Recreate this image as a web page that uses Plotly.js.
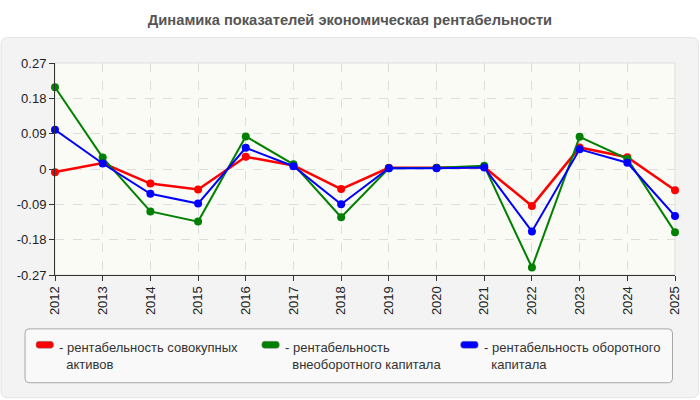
<!DOCTYPE html>
<html>
<head>
<meta charset="utf-8">
<script src="https://cdn.plot.ly/plotly-3.0.1.min.js"></script>
<style>html,body{margin:0;padding:0;background:#fff;}#chart{width:700px;height:400px;}</style>
</head>
<body>
<div id="chart"></div>
<script>
var years = [2012,2013,2014,2015,2016,2017,2018,2019,2020,2021,2022,2023,2024,2025];
var totalAssets = [-0.008,0.015,-0.037,-0.052,0.031,0.009,-0.051,0.003,0.003,0.005,-0.094,0.055,0.030,-0.054];
var fixedCapital = [0.208,0.029,-0.108,-0.134,0.083,0.012,-0.123,0.002,0.003,0.008,-0.251,0.082,0.026,-0.161];
var workingCapital = [0.100,0.014,-0.063,-0.088,0.054,0.007,-0.090,0.002,0.002,0.004,-0.159,0.050,0.016,-0.120];
var seriesNames = ["рентабельность совокупных активов","рентабельность внеоборотного капитала","рентабельность оборотного капитала"];
var legendTexts = ["- рентабельность совокупных<br>&#160;&#160;активов","- рентабельность<br>&#160;&#160;внеоборотного капитала","- рентабельность оборотного<br>&#160;&#160;капитала"];
var yTickVals = [-0.27,-0.18,-0.09,0,0.09,0.18,0.27];
var yTickText = ["-0.27","-0.18","-0.09","0","0.09","0.18","0.27"];
var titleText = "Динамика показателей экономическая рентабельности";

var W = 700, H = 400;
var M = {l:55, r:24.5, t:62.5, b:125};
var PW = W - M.l - M.r, PH = H - M.t - M.b;
function px(x){ return (x - M.l) / PW; }
function py(y){ return (H - M.b - y) / PH; }
function roundRect(x0,y0,x1,y1,r){
  var a = px(x0), b = px(x1), c = py(y0), d = py(y1);
  var rx = r / PW, ry = r / PH;
  return 'M'+(a+rx)+','+c+' L'+(b-rx)+','+c+' Q'+b+','+c+' '+b+','+(c-ry)+
    ' L'+b+','+(d+ry)+' Q'+b+','+d+' '+(b-rx)+','+d+
    ' L'+(a+rx)+','+d+' Q'+a+','+d+' '+a+','+(d+ry)+
    ' L'+a+','+(c-ry)+' Q'+a+','+c+' '+(a+rx)+','+c+' Z';
}

var FONT = 'Liberation Sans, Arial, sans-serif';
var colors = ['#ff0000','#008000','#0000ff'];
var widths = [2.5,2,2];
var data = [totalAssets, fixedCapital, workingCapital].map(function(v,i){
  return {x: years, y: v, type:'scatter', mode:'lines+markers', name: seriesNames[i],
    line:{color:colors[i], width:widths[i]}, marker:{color:colors[i], size:8}, showlegend:false,
    cliponaxis:false};
});

var shapes = [
  {type:'path', xref:'paper', yref:'paper', layer:'below', path: roundRect(1,37,699,398,7), fillcolor:'#f3f3f3', line:{color:'#e4e4e4', width:1}},
  {type:'rect', xref:'paper', yref:'paper', layer:'below', x0:0, x1:1, y0:0, y1:1, fillcolor:'#fbfbf6', line:{color:'#dddddd', width:1}},
  {type:'path', xref:'paper', yref:'paper', layer:'below', path: roundRect(25,329,673,383,4), fillcolor:'#f9f9f9', line:{color:'#a8a8a8', width:1}}
];
var swatchX = [36, 262, 461];
var textX = [57, 283, 482];
var annotations = [];
for (var i=0;i<3;i++){
  shapes.push({type:'path', xref:'paper', yref:'paper', path: roundRect(swatchX[i],341.5,swatchX[i]+17.5,348.5,3), fillcolor:colors[i], line:{color:'#888', width:0.5}});
  annotations.push({xref:'paper', yref:'paper', x:px(textX[i]), y:py(338), xanchor:'left', yanchor:'top', align:'left', showarrow:false,
    text:legendTexts[i], font:{family:FONT, size:13, color:'#333'}});
}

var layout = {
  width: W, height: H,
  margin: M,
  paper_bgcolor:'#ffffff', plot_bgcolor:'rgba(0,0,0,0)',
  font:{family:FONT, size:13, color:'#222'},
  title:{text: '<b>'+titleText+'</b>', x:0.5, xref:'container', y:1-20/H, yref:'container', yanchor:'middle', xanchor:'center',
    font:{family:FONT, size:14.7, color:'#555'}},
  xaxis:{range:[2012,2025], tickvals: years, ticktext: years.map(String), tickangle:-90,
    showgrid:true, gridcolor:'#dddddd', griddash:'dash', zeroline:false,
    showline:true, linecolor:'#333', linewidth:1, ticks:'outside', ticklen:5, tickcolor:'#333',
    tickfont:{size:13, color:'#222'}},
  yaxis:{range:[-0.27,0.27], tickvals: yTickVals, ticktext: yTickText,
    showgrid:true, gridcolor:'#dddddd', griddash:'dash', zeroline:false,
    showline:true, linecolor:'#333', linewidth:1, ticks:'outside', ticklen:5, tickcolor:'#333',
    tickfont:{size:13, color:'#222'}},
  shapes: shapes,
  annotations: annotations,
  showlegend:false
};
Plotly.newPlot('chart', data, layout, {displayModeBar:false, staticPlot:true});
</script>
</body>
</html>
